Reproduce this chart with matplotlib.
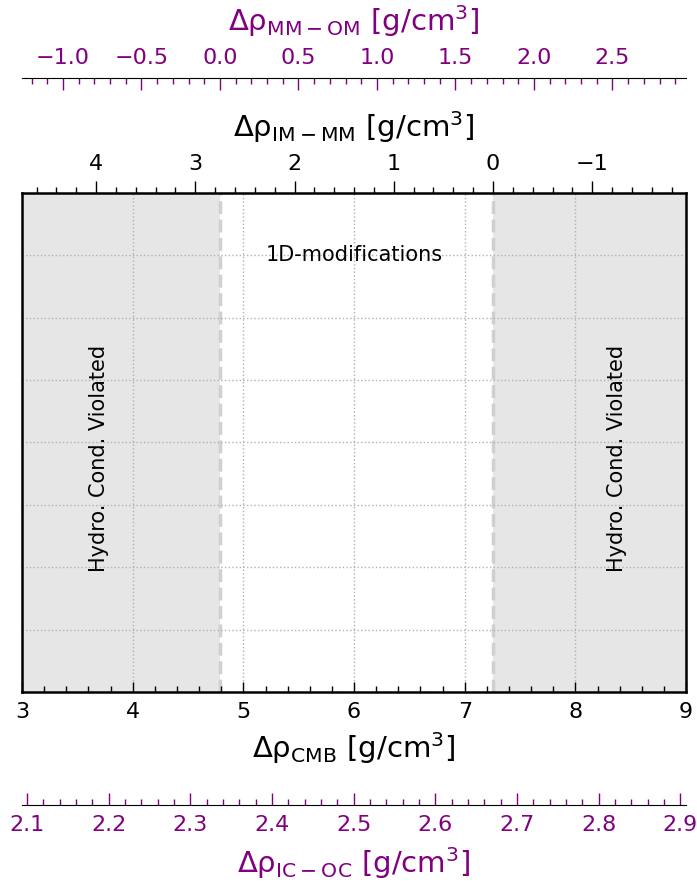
import matplotlib.pyplot as plt
from matplotlib.ticker import MultipleLocator

# axis ranges
cmb_lim = [3.0, 9.0]
immm_lim = [4.746, -1.945]
mmom_lim = [-1.261, 2.969]
icoc_lim = [2.094, 2.907]
y_lim = [0, 8]

# hydrostatic-violation boundaries (in CMB units)
hydro_left = [3.0, 4.789]
hydro_right = [7.256, 9.0]

region_text = "1D-modifications"
hydro_text = "Hydro. Cond. Violated"
hydro_text_x = [3.7, 8.38]

purple = 'purple'
fs = 16
lfs = 21

fig = plt.figure(figsize=(6.97, 8.84), dpi=100)
ax = fig.add_axes([0.0316, 0.217, 0.9527, 0.565])

ax.axvspan(*hydro_left, color='#e6e6e6', zorder=0, lw=0)
ax.axvspan(*hydro_right, color='#e6e6e6', zorder=0, lw=0)
ax.axvline(hydro_left[1], color='#d0d0d0', ls='--', lw=2.5, zorder=0.5)
ax.axvline(hydro_right[0], color='#d0d0d0', ls='--', lw=2.5, zorder=0.5)

ax.set_xlim(cmb_lim)
ax.set_ylim(y_lim)
ax.xaxis.set_major_locator(MultipleLocator(1))
ax.xaxis.set_minor_locator(MultipleLocator(0.2))
ax.yaxis.set_major_locator(MultipleLocator(1))
ax.grid(True, ls=':', color='#b0b0b0', lw=1)
ax.tick_params(axis='x', which='both', direction='in', top=True, labelsize=fs, pad=7)
ax.tick_params(axis='x', which='major', length=7, width=1)
ax.tick_params(axis='x', which='minor', length=4, width=1)
ax.tick_params(axis='y', left=False, labelleft=False)
for s in ax.spines.values():
    s.set_linewidth(1.8)
ax.set_xlabel('Δρ$_{\\rm CMB}$ [g/cm$^3$]', fontsize=lfs, labelpad=6)

ax.text(6.0, 7.0, region_text, ha='center', va='center', fontsize=15)
for xt in hydro_text_x:
    ax.text(xt, 3.75, hydro_text, ha='center', va='center', rotation=90, fontsize=15)

# IM-MM top axis
ax2 = ax.twiny()
ax2.set_xlim(immm_lim)
ax2.xaxis.set_major_locator(MultipleLocator(1))
ax2.xaxis.set_minor_locator(MultipleLocator(0.2))
ax2.tick_params(axis='x', which='both', direction='out', labelsize=fs, pad=5)
ax2.tick_params(axis='x', which='major', length=8.5, width=1)
ax2.tick_params(axis='x', which='minor', length=4, width=1)
ax2.set_xlabel('Δρ$_{\\rm IM-MM}$ [g/cm$^3$]', fontsize=lfs, labelpad=12)
for s in ax2.spines.values():
    s.set_visible(False)

# MM-OM axis, moved outward on top
ax3 = ax.twiny()
ax3.set_xlim(mmom_lim)
ax3.spines['top'].set_position(('outward', 82.8))
for k in ['left', 'right', 'bottom']:
    ax3.spines[k].set_visible(False)
ax3.xaxis.set_major_locator(MultipleLocator(0.5))
ax3.xaxis.set_minor_locator(MultipleLocator(0.1))
ax3.tick_params(axis='x', which='both', direction='in', colors=purple, labelsize=fs, pad=7)
ax3.tick_params(axis='x', which='major', length=8.5, width=1)
ax3.tick_params(axis='x', which='minor', length=4, width=1)
ax3.set_xlabel('Δρ$_{\\rm MM-OM}$ [g/cm$^3$]', fontsize=lfs, color=purple, labelpad=12)

# IC-OC axis, moved outward at bottom
ax4 = ax.twiny()
ax4.set_xlim(icoc_lim)
ax4.xaxis.set_ticks_position('bottom')
ax4.xaxis.set_label_position('bottom')
ax4.spines['bottom'].set_position(('outward', 81.4))
for k in ['left', 'right', 'top']:
    ax4.spines[k].set_visible(False)
ax4.xaxis.set_major_locator(MultipleLocator(0.1))
ax4.xaxis.set_minor_locator(MultipleLocator(0.02))
ax4.tick_params(axis='x', which='both', direction='in', colors=purple, labelsize=fs, pad=7)
ax4.tick_params(axis='x', which='major', length=8.5, width=1)
ax4.tick_params(axis='x', which='minor', length=4, width=1)
ax4.set_xlabel('Δρ$_{\\rm IC-OC}$ [g/cm$^3$]', fontsize=lfs, color=purple, labelpad=7)

fig.savefig('out.png', dpi=100)
